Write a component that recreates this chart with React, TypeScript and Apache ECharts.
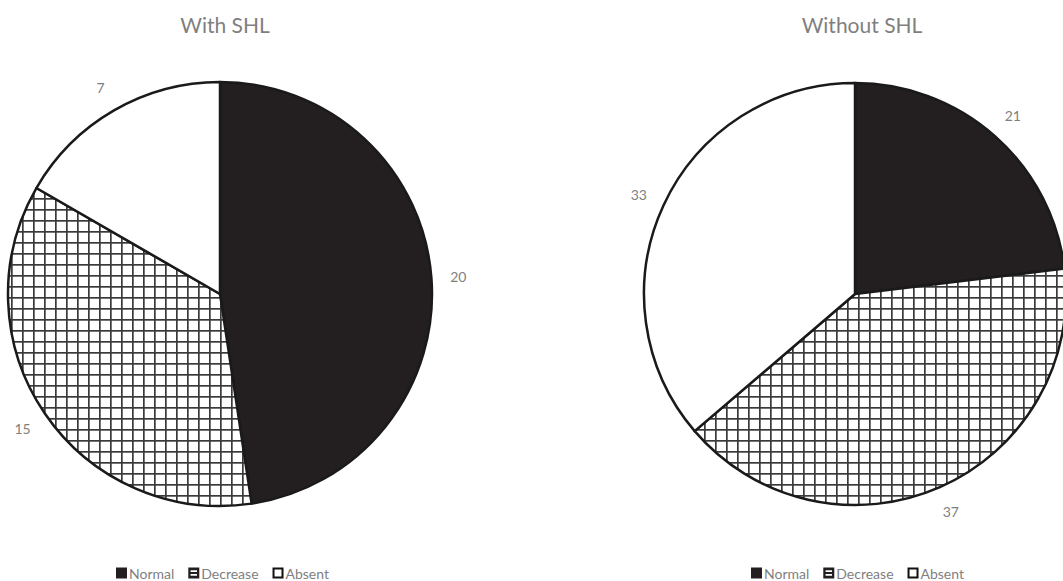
import React, { useEffect, useRef } from "react";
import * as echarts from "echarts";

const categories = ["Normal", "Decrease", "Absent"];
const withSHL = [20, 15, 7];
const withoutSHL = [21, 37, 33];
const titles = ["With SHL", "Without SHL"];

const FONT = "Lato, 'Open Sans', sans-serif";
const TEXT = "#7f7f7f";
const DARK = "#231f20";
const BORDER = "#1a1a1a";

const tileSvg =
  '<svg xmlns="http://www.w3.org/2000/svg" width="11" height="11">' +
  '<rect width="11" height="11" fill="#ffffff"/>' +
  '<rect x="0" y="0" width="11" height="1.7" fill="#3a3a3a"/>' +
  '<rect x="0" y="0" width="1.7" height="11" fill="#3a3a3a"/>' +
  "</svg>";
const hatch = {
  image: "data:image/svg+xml;charset=utf-8," + encodeURIComponent(tileSvg),
  repeat: "repeat",
  imageWidth: 11,
  imageHeight: 11,
};

const fills = [DARK, hatch, "#ffffff"];

const decreaseIcon =
  "path://M0,0 L12,0 L12,12 L0,12 Z M2.5,3 L2.5,5 L9.5,5 L9.5,3 Z M2.5,7 L2.5,9 L9.5,9 L9.5,7 Z";
const absentIcon =
  "path://M0,0 L12,0 L12,12 L0,12 Z M2.2,2.2 L2.2,9.8 L9.8,9.8 L9.8,2.2 Z";

function legendData() {
  return [
    { name: categories[0], icon: "rect", itemStyle: { color: DARK, borderWidth: 0 } },
    { name: categories[1], icon: decreaseIcon, itemStyle: { color: DARK, borderWidth: 0 } },
    { name: categories[2], icon: absentIcon, itemStyle: { color: "#111", borderWidth: 0 } },
  ];
}

function legend(left: number) {
  return {
    left,
    top: 560,
    itemWidth: 11,
    itemHeight: 11,
    itemGap: 14,
    selectedMode: false,
    textStyle: {
      fontFamily: FONT,
      fontSize: 14,
      color: TEXT,
      lineHeight: 16,
      padding: [0, 0, 0, -3],
    },
    data: legendData(),
  };
}

function pieSeries(values: number[], center: number[], r: number) {
  return {
    type: "pie",
    center,
    radius: r,
    startAngle: 90,
    clockwise: true,
    label: { show: false },
    labelLine: { show: false },
    silent: true,
    data: categories.map((c, i) => ({
      name: c,
      value: values[i],
      itemStyle: { color: fills[i], borderColor: BORDER, borderWidth: 2.5 },
    })),
  };
}

function labelSeries(values: number[], center: number[], r: number) {
  return {
    type: "pie",
    center,
    radius: [r, r + 48],
    startAngle: 90,
    clockwise: true,
    silent: true,
    legendHoverLink: false,
    label: {
      show: true,
      position: "inside",
      formatter: "{c}",
      color: TEXT,
      fontSize: 14,
      fontFamily: FONT,
    },
    labelLine: { show: false },
    itemStyle: { color: "rgba(0,0,0,0)", borderWidth: 0 },
    data: categories.map((c, i) => ({ name: c, value: values[i] })),
  };
}

function title(text: string, left: number) {
  return {
    text,
    left,
    top: 9,
    textAlign: "center",
    textStyle: { fontFamily: FONT, fontSize: 21, fontWeight: "normal", color: TEXT },
  };
}

export default function App() {
  const ref = useRef<HTMLDivElement>(null);
  useEffect(() => {
    const chart = echarts.init(ref.current!, null, { renderer: "svg" });
    chart.setOption({
      animation: false,
      backgroundColor: "#ffffff",
      title: [title(titles[0], 220), title(titles[1], 857)],
      legend: [legend(111), legend(746)],
      series: [
        pieSeries(withSHL, [220, 294], 212),
        pieSeries(withoutSHL, [855, 294], 211),
        labelSeries(withSHL, [220, 294], 212),
        labelSeries(withoutSHL, [855, 294], 211),
      ],
    });
    return () => chart.dispose();
  }, []);
  return (
    <div
      ref={ref}
      style={{ position: "fixed", left: 0, top: 0, width: 1063, height: 581 }}
    />
  );
}
